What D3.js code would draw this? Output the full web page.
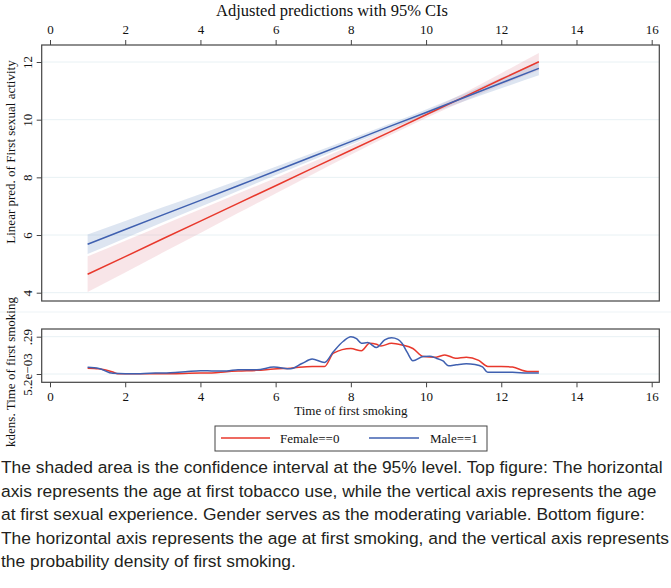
<!DOCTYPE html>
<html>
<head>
<meta charset="utf-8">
<script src="https://cdn.jsdelivr.net/npm/d3@7"></script>
<style>
  body { margin: 0; background: #fff; }
  svg text { font-family: "Liberation Serif", "DejaVu Serif", serif; fill: #111; }
  .axis path.domain { display: none; }
  .axis line { stroke: #444; }
  .axis text { font-size: 13px; font-family: "Liberation Serif", serif; }
  .caption { font-family: "Liberation Sans", "Arial", sans-serif; font-size: 17.4px; fill: #231f20; }
</style>
</head>
<body>
<svg id="chart" width="671" height="588"></svg>
<script>
// ages of first smoking for the fitted lines
const fitX = [1, 2, 3, 4, 5, 6, 7, 8, 9, 10, 11, 12, 13];
// Female==0
const femaleFit = [4.64, 5.25, 5.87, 6.48, 7.10, 7.71, 8.33, 8.94, 9.55, 10.17, 10.78, 11.40, 12.01];
const femaleLo  = [4.02, 4.70, 5.39, 6.07, 6.76, 7.44, 8.12, 8.78, 9.43, 10.06, 10.64, 11.19, 11.71];
const femaleHi  = [5.26, 5.80, 6.35, 6.89, 7.44, 7.98, 8.54, 9.10, 9.67, 10.28, 10.92, 11.61, 12.31];
// Male==1
const maleFit = [5.68, 6.19, 6.70, 7.20, 7.71, 8.22, 8.73, 9.24, 9.75, 10.25, 10.76, 11.27, 11.78];
const maleLo  = [5.34, 5.89, 6.44, 6.98, 7.53, 8.07, 8.61, 9.14, 9.66, 10.15, 10.63, 11.09, 11.54];
const maleHi  = [6.02, 6.49, 6.96, 7.42, 7.89, 8.37, 8.85, 9.34, 9.84, 10.35, 10.89, 11.45, 12.02];

// kernel densities of first smoking
const femaleDensX = [1.0, 1.3, 1.67, 1.8, 2.4, 3.2, 4.0, 4.3, 4.7, 5.0, 5.5, 5.95, 6.4, 6.97, 7.3, 7.54, 8.0, 8.28, 8.5, 8.68, 8.8, 9.08, 9.36, 9.65, 9.93, 10.27, 10.5, 10.78, 11.07, 11.4, 11.64, 12.0, 12.3, 12.7, 13.0];
const femaleDens  = [0.050, 0.045, 0.020, 0.008, 0.007, 0.008, 0.012, 0.012, 0.023, 0.028, 0.033, 0.043, 0.050, 0.063, 0.063, 0.164, 0.199, 0.182, 0.240, 0.232, 0.219, 0.240, 0.227, 0.200, 0.139, 0.134, 0.151, 0.126, 0.134, 0.109, 0.063, 0.063, 0.058, 0.025, 0.025];
const maleDensX = [1.0, 1.3, 1.67, 2.0, 2.4, 2.8, 3.2, 3.6, 4.0, 4.3, 4.7, 5.0, 5.5, 5.95, 6.4, 6.7, 6.97, 7.3, 7.54, 7.8, 8.0, 8.15, 8.28, 8.45, 8.68, 8.9, 9.08, 9.25, 9.36, 9.5, 9.65, 9.93, 10.1, 10.27, 10.45, 10.6, 10.8, 11.07, 11.3, 11.5, 11.64, 12.0, 12.3, 12.7, 13.0];
const maleDens  = [0.056, 0.048, 0.010, 0.008, 0.008, 0.012, 0.015, 0.022, 0.030, 0.029, 0.028, 0.038, 0.038, 0.058, 0.045, 0.085, 0.119, 0.093, 0.177, 0.255, 0.290, 0.275, 0.240, 0.245, 0.207, 0.265, 0.282, 0.270, 0.240, 0.170, 0.106, 0.139, 0.140, 0.126, 0.105, 0.068, 0.075, 0.083, 0.078, 0.060, 0.018, 0.018, 0.018, 0.013, 0.013];

const xTicks = [0, 2, 4, 6, 8, 10, 12, 14, 16];
const yTopTicks = [4, 6, 8, 10, 12];
const yBotTicks = [0.0052, 0.29];
const yBotLabels = ['5.2e\u221203', '.29'];
const legendLabels = ['Female==0', 'Male==1'];
const captionLines = [
  'The shaded area is the confidence interval at the 95% level. Top figure: The horizontal',
  'axis represents the age at first tobacco use, while the vertical axis represents the age',
  'at first sexual experience. Gender serves as the moderating variable. Bottom figure:',
  'The horizontal axis represents the age at first smoking, and the vertical axis represents',
  'the probability density of first smoking.'
];

const red = '#e8382c', blue = '#3f60b0';
const svg = d3.select('#chart');

const x = d3.scaleLinear().domain([0, 16]).range([50, 651.7]);
const yTop = d3.scaleLinear().domain([4, 12]).range([292.7, 62]);
const yBot = d3.scaleLinear().domain([0.0052, 0.29]).range([374, 336.7]);

const frameL = 41.7, frameR = 659.3;

// title
svg.append('text').attr('x', 332).attr('y', 16).attr('text-anchor', 'middle')
  .style('font-size', '16.5px').text('Adjusted predictions with 95% CIs');

// faint separator between panels
svg.append('line').attr('x1', 0).attr('x2', 671).attr('y1', 312).attr('y2', 312)
  .attr('stroke', '#edf3f6').attr('stroke-width', 1);

// ---------- top panel ----------
const topG = svg.append('g');
topG.selectAll('line.grid').data(yTopTicks).enter().append('line')
  .attr('x1', frameL).attr('x2', frameR)
  .attr('y1', d => yTop(d)).attr('y2', d => yTop(d))
  .attr('stroke', '#e8f1f4').attr('stroke-width', 1);

const rows = (fit, lo, hi) => fitX.map((v, i) => ({x: v, fit: fit[i], lo: lo[i], hi: hi[i]}));
const fem = rows(femaleFit, femaleLo, femaleHi);
const mal = rows(maleFit, maleLo, maleHi);

const band = d3.area().x(d => x(d.x)).y0(d => yTop(d.lo)).y1(d => yTop(d.hi)).curve(d3.curveMonotoneX);
const fitLine = d3.line().x(d => x(d.x)).y(d => yTop(d.fit));

topG.append('path').datum(fem).attr('d', band).attr('fill', 'rgb(232,170,180)').attr('fill-opacity', 0.3);
topG.append('path').datum(mal).attr('d', band).attr('fill', 'rgb(150,175,212)').attr('fill-opacity', 0.32);
topG.append('path').datum(fem).attr('d', fitLine).attr('fill', 'none').attr('stroke', red).attr('stroke-width', 1.5);
topG.append('path').datum(mal).attr('d', fitLine).attr('fill', 'none').attr('stroke', blue).attr('stroke-width', 1.5);

topG.append('rect').attr('x', frameL).attr('y', 45).attr('width', frameR - frameL).attr('height', 256)
  .attr('fill', 'none').attr('stroke', '#444').attr('stroke-width', 1.2);

topG.append('g').attr('class', 'axis').attr('transform', 'translate(0,45)')
  .call(d3.axisTop(x).tickValues(xTicks).tickSize(5).tickPadding(6));

const yAxT = topG.append('g').attr('class', 'axis').attr('transform', `translate(${frameL},0)`)
  .call(d3.axisLeft(yTop).tickValues(yTopTicks).tickSize(5));
yAxT.selectAll('text').attr('x', null).attr('dy', null)
  .attr('transform', 'translate(-10,0) rotate(-90)').attr('text-anchor', 'middle');

svg.append('text').attr('transform', 'translate(15,152) rotate(-90)').attr('text-anchor', 'middle')
  .style('font-size', '13px').text('Linear pred. of First sexual activity');

// ---------- bottom panel ----------
const botG = svg.append('g');
botG.selectAll('line.grid').data(yBotTicks).enter().append('line')
  .attr('x1', frameL).attr('x2', frameR)
  .attr('y1', d => yBot(d)).attr('y2', d => yBot(d))
  .attr('stroke', '#e8f1f4').attr('stroke-width', 1);

const densLine = d3.line().x(d => x(d[0])).y(d => yBot(d[1])).curve(d3.curveMonotoneX);
botG.append('path').datum(femaleDensX.map((v, i) => [v, femaleDens[i]]))
  .attr('d', densLine).attr('fill', 'none').attr('stroke', red).attr('stroke-width', 1.5);
botG.append('path').datum(maleDensX.map((v, i) => [v, maleDens[i]]))
  .attr('d', densLine).attr('fill', 'none').attr('stroke', blue).attr('stroke-width', 1.5);

botG.append('rect').attr('x', frameL).attr('y', 329).attr('width', frameR - frameL).attr('height', 53.3)
  .attr('fill', 'none').attr('stroke', '#444').attr('stroke-width', 1.2);

botG.append('g').attr('class', 'axis').attr('transform', 'translate(0,382.3)')
  .call(d3.axisBottom(x).tickValues(xTicks).tickSize(5).tickPadding(4));

const yAxB = botG.append('g').attr('class', 'axis').attr('transform', `translate(${frameL},0)`)
  .call(d3.axisLeft(yBot).tickValues(yBotTicks).tickSize(5).tickFormat((d, i) => yBotLabels[i]));
yAxB.selectAll('text').attr('x', null).attr('dy', null)
  .attr('transform', 'translate(-10,0) rotate(-90)').attr('text-anchor', 'middle');

svg.append('text').attr('transform', 'translate(15,372) rotate(-90)').attr('text-anchor', 'middle')
  .style('font-size', '13px').text('kdens. Time of first smoking');

svg.append('text').attr('x', x(8)).attr('y', 415).attr('text-anchor', 'middle')
  .style('font-size', '13px').text('Time of first smoking');

// ---------- legend ----------
const leg = svg.append('g');
leg.append('rect').attr('x', 215).attr('y', 426).attr('width', 272).attr('height', 25)
  .attr('fill', '#fff').attr('stroke', '#444').attr('stroke-width', 1);
const legX = [[221, 270, 280], [369, 419, 430]];
[red, blue].forEach((c, i) => {
  leg.append('line').attr('x1', legX[i][0]).attr('x2', legX[i][1]).attr('y1', 438).attr('y2', 438)
    .attr('stroke', c).attr('stroke-width', 1.5);
  leg.append('text').attr('x', legX[i][2]).attr('y', 442.5).style('font-size', '13px').text(legendLabels[i]);
});

// ---------- caption ----------
svg.append('g').selectAll('text').data(captionLines).enter().append('text')
  .attr('class', 'caption').attr('x', 1).attr('y', (d, i) => 473 + i * 23.5).text(d => d);
</script>
</body>
</html>
